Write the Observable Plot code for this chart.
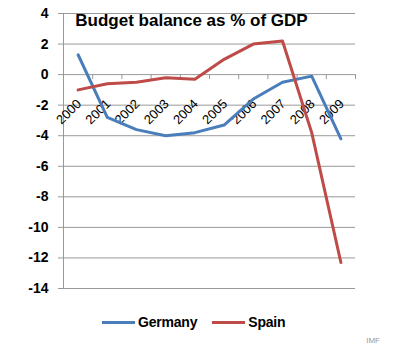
<!DOCTYPE html>
<html>
<head>
<meta charset="utf-8">
<script src="https://cdn.jsdelivr.net/npm/d3@7"></script>
<script src="https://cdn.jsdelivr.net/npm/@observablehq/plot@0.6"></script>
<style>
  body { margin: 0; background: #fff; font-family: "Liberation Sans", Arial, sans-serif; }
  #legend { display: flex; align-items: center; height: 20px; margin-top: 12px; padding-left: 102px; font-weight: bold; font-size: 14px; color: #000; letter-spacing: -0.2px; }
  .sw { display: inline-block; width: 33px; height: 3px; margin-right: 3px; }
  #src { text-align: right; padding-right: 20px; font-size: 8px; color: #999; margin-top: 4px; }
</style>
</head>
<body>
<div id="chart"></div>
<script>
const years = [2000, 2001, 2002, 2003, 2004, 2005, 2006, 2007, 2008, 2009];
const germany = [1.3, -2.8, -3.6, -4.0, -3.8, -3.3, -1.6, -0.5, -0.1, -4.2];
const spain = [-1.0, -0.6, -0.5, -0.2, -0.3, 1.0, 2.0, 2.2, -3.8, -12.3];
const yTicks = [4, 2, 0, -2, -4, -6, -8, -10, -12, -14];
const seriesNames = ["Germany", "Spain"];
const colors = ["#4A7EBB", "#BE4B48"];
const title = "Budget balance as % of GDP";
const source = "IMF";

const rows = [];
years.forEach((y, i) => {
  rows.push({year: y, value: germany[i], series: seriesNames[0]});
  rows.push({year: y, value: spain[i], series: seriesNames[1]});
});
const x0 = years[0] - 0.5, x1 = years[years.length - 1] + 0.5;
const bounds = d3.range(years.length + 1).map(i => x0 + i);

const chart = Plot.plot({
  width: 400,
  height: 300,
  marginLeft: 63,
  marginRight: 45,
  marginTop: 13,
  marginBottom: 12,
  style: {fontFamily: '"Liberation Sans", Arial, sans-serif', background: "#fff"},
  x: {domain: [x0, x1], axis: null},
  y: {domain: [-14, 4], ticks: yTicks, axis: null},
  color: {domain: seriesNames, range: colors},
  marks: [
    Plot.ruleY(yTicks, {y: d => d, x1: x0, x2: x1, stroke: "#999", strokeWidth: 1, strokeOpacity: 1}),
    Plot.axisY({ticks: yTicks, label: null, tickSize: 5, tickPadding: 10, fontSize: 14, fontWeight: "bold", stroke: "#999", color: "#000", tickFormat: d => d}),
    Plot.ruleX([x0], {y1: -14, y2: 4, stroke: "#999"}),
    Plot.ruleX(bounds, {x: d => d, y1: 0, y2: 0, insetTop: 0, insetBottom: -5, stroke: "#999"}),
    Plot.text(years, {x: d => d, y: 0, text: d => String(d), rotate: -45, textAnchor: "end", dx: 1, dy: 27, fontSize: 13, fill: "#000"}),
    Plot.line(rows, {x: "year", y: "value", z: "series", stroke: "series", strokeWidth: 3}),
    Plot.text([title], {frameAnchor: "top", dx: -18, dy: 0, lineAnchor: "top", text: d => d, fontSize: 17, fontWeight: "bold", fill: "#000", letterSpacing: "-0.3px"})
  ]
});
document.getElementById("chart").appendChild(chart);

const legend = document.createElement("div");
legend.id = "legend";
seriesNames.forEach((n, i) => {
  const sw = document.createElement("span");
  sw.className = "sw";
  sw.style.background = colors[i];
  const t = document.createElement("span");
  t.textContent = n;
  t.style.marginRight = i === 0 ? "15px" : "0";
  legend.appendChild(sw);
  legend.appendChild(t);
});
document.body.appendChild(legend);
const src = document.createElement("div");
src.id = "src";
src.textContent = source;
document.body.appendChild(src);
</script>
</body>
</html>
